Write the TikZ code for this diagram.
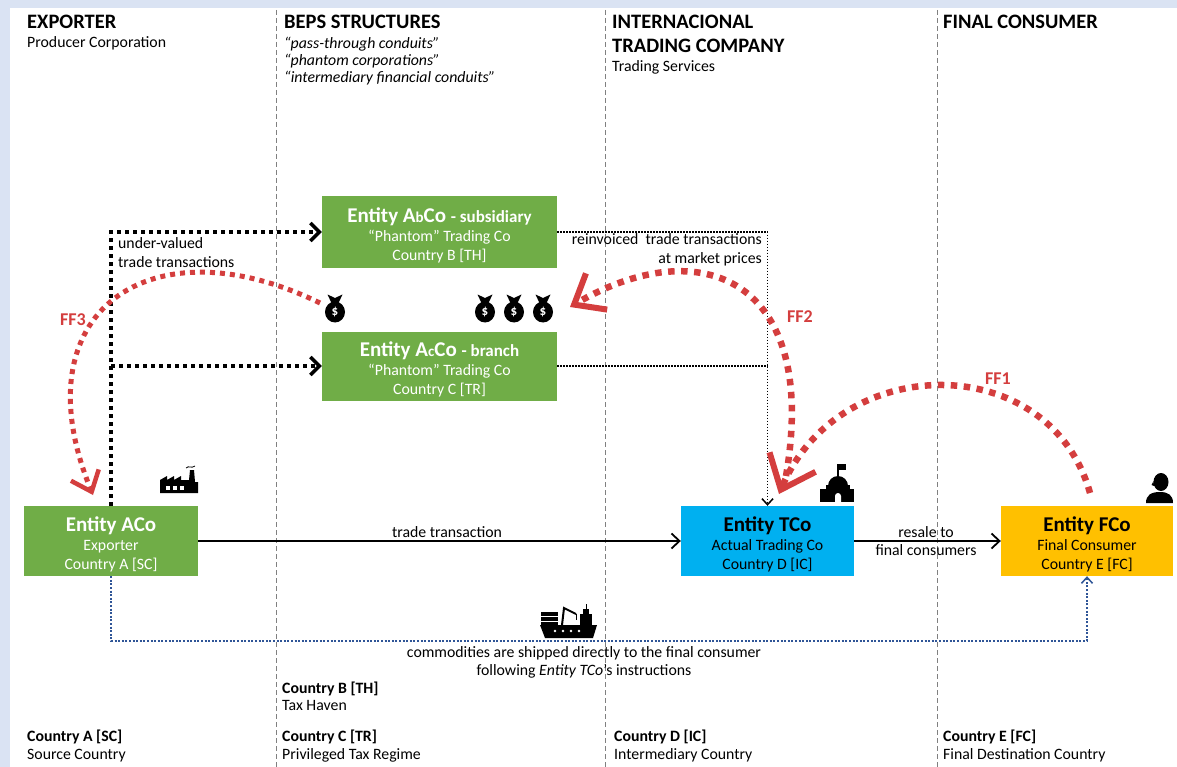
\documentclass[tikz,border=0pt]{standalone}
\usepackage{fontspec}
\setmainfont{Carlito}
\usetikzlibrary{arrows.meta}
\definecolor{cgreen}{HTML}{70AD47}
\definecolor{ccyan}{HTML}{00B0F0}
\definecolor{cyel}{HTML}{FFC000}
\definecolor{cred}{RGB}{212,62,62}
\definecolor{cblue}{RGB}{47,85,151}
\definecolor{cband}{HTML}{DAE3F3}
\definecolor{cgrid}{RGB}{128,128,128}
\newcommand\myS{\fontsize{15.8}{19}\selectfont}
\newcommand\myH{\fontsize{20.5}{24}\selectfont\bfseries}
\newcommand\myT{\fontsize{21}{19}\selectfont\bfseries\rule{0pt}{21pt}}
\newcommand\myU{\fontsize{17}{19}\selectfont\bfseries}
\newcommand\myR{\fontsize{18}{20}\selectfont\bfseries}
\begin{document}
\begin{tikzpicture}[x=1pt,y=-1pt,
  txt/.style={inner sep=0pt, font=\myS, anchor=base west},
  hdr/.style={inner sep=0pt, font=\myH, anchor=base west},
  ent/.style={inner sep=0pt, align=center, font=\myS},
  grid/.style={cgrid, line width=0.8pt, dash pattern=on 5pt off 3pt},
  bigdot/.style={black, line width=4pt, dash pattern=on 4pt off 4pt},
  thindot/.style={black, line width=1.5pt, dash pattern=on 1.5pt off 1.5pt},
  bluedot/.style={cblue, line width=2pt, dash pattern=on 2pt off 1.6pt},
  solidarr/.style={black, line width=1.6pt},
  ffline/.style={cred, line width=6.5pt, dash pattern=on 6.5pt off 6.5pt},
  fflabel/.style={inner sep=0pt, text=cred, font=\myR},
  bigtip/.tip={Straight Barb[length=9pt,width=18pt,line width=3.5pt]},
  smalltip/.tip={Straight Barb[length=6pt,width=11pt,line width=1.5pt]},
  midtip/.tip={Straight Barb[length=8pt,width=15pt,line width=1.8pt]},
  fftipA/.tip={Straight Barb[length=30pt,width=50pt,line width=6pt]},
  fftipB/.tip={Straight Barb[length=26pt,width=42pt,line width=6pt]},
  fftipC/.tip={Straight Barb[length=18pt,width=30pt,line width=4.5pt]},
  bagicon/.pic={
    \fill[black] (0,5) ellipse[x radius=10, y radius=10.5];
    \fill[black] (-3.5,-4) -- (-7.5,-12.5) -- (0,-9) -- (7.5,-12.5) -- (3.5,-4) -- cycle;
    \node[text=white, font=\fontsize{13}{13}\selectfont\bfseries, inner sep=0pt] (-d) at (0,5.5) {\$};
  }]
\useasboundingbox (0,0) rectangle (1177,767);
\fill[white] (0,0) rectangle (1177,767);
\fill[cband] (0,0) rectangle (1177,8);
\fill[cband] (0,0) rectangle (10,767);

% column separators
\draw[grid] (276,10) -- (276,767);
\draw[grid] (605,10) -- (605,767);
\draw[grid] (937,10) -- (937,767);

% headers
\node[hdr] (hA) at (27,28.6) {EXPORTER};
\node[txt] (sA) at (27,48) {Producer Corporation};
\node[hdr] (hB) at (284,28.6) {BEPS STRUCTURES};
\node[txt] (sB1) at (284,49) {\itshape “pass-through conduits”};
\node[txt] (sB2) at (284,66) {\itshape “phantom corporations”};
\node[txt] (sB3) at (284,83) {\itshape “intermediary financial conduits”};
\node[hdr] (hD1) at (612,28.6) {INTERNACIONAL};
\node[hdr] (hD2) at (612,52.5) {TRADING COMPANY};
\node[txt] (sD) at (612,72) {Trading Services};
\node[hdr] (hE) at (943,28.6) {FINAL CONSUMER};

% footers
\node[txt, font=\myS\bfseries] (fB1) at (282,693) {Country B [TH]};
\node[txt] (fB2) at (282,710) {Tax Haven};
\node[txt, font=\myS\bfseries] (fA1) at (27,741) {Country A [SC]};
\node[txt] (fA2) at (27,759) {Source Country};
\node[txt, font=\myS\bfseries] (fC1) at (282,741) {Country C [TR]};
\node[txt] (fC2) at (282,759) {Privileged Tax Regime};
\node[txt, font=\myS\bfseries] (fD1) at (614,741) {Country D [IC]};
\node[txt] (fD2) at (614,759) {Intermediary Country};
\node[txt, font=\myS\bfseries] (fE1) at (943,741) {Country E [FC]};
\node[txt] (fE2) at (943,759) {Final Destination Country};

% entity boxes
\node[ent, fill=cgreen, text=white, minimum width=235pt, minimum height=72pt] (abco) at (439.5,232)
  {{\myT Entity A{\fontsize{15}{19}\selectfont b}Co {\myU - subsidiary}}\\“Phantom” Trading Co\\Country B [TH]};
\node[ent, fill=cgreen, text=white, minimum width=235pt, minimum height=69pt] (acco) at (439.5,366)
  {{\myT Entity A{\fontsize{15}{19}\selectfont c}Co {\myU - branch}}\\“Phantom” Trading Co\\Country C [TR]};
\node[ent, fill=cgreen, text=white, minimum width=174pt, minimum height=70pt] (aco) at (111,541)
  {{\myT Entity ACo}\\Exporter\\Country A [SC]};
\node[ent, fill=ccyan, text=black, minimum width=173pt, minimum height=70pt] (tco) at (767.5,541)
  {{\myT Entity TCo}\\Actual Trading Co\\Country D [IC]};
\node[ent, fill=cyel, text=black, minimum width=172pt, minimum height=70pt] (fco) at (1087,541)
  {{\myT Entity FCo}\\Final Consumer\\Country E [FC]};

% black dotted (under-valued)
\draw[bigdot, -{bigtip}] (aco.north) |- (abco.west);
\draw[bigdot, -{bigtip}] (aco.north |- acco.west) -- (acco.west);
\node[txt, anchor=west, align=left] (uv) at (118,252.5) {under-valued\\trade transactions};

% thin dotted (reinvoiced)
\draw[thindot, -{smalltip}] (abco.east) -| (tco.north);
\draw[thindot] (acco.east) -- (tco.north |- acco.east);
\node[txt, anchor=east, align=right] (ri) at (762,250) {reinvoiced\ \ trade transactions\\at market prices};

% solid trade arrows
\draw[solidarr, -{midtip}] (aco.east) -- (tco.west);
\node[txt, anchor=base] (tt) at (447,537) {trade transaction};
\draw[solidarr, -{midtip}] (tco.east) -- (fco.west);
\node[txt, anchor=base] (rs1) at (926,537) {resale to};
\node[txt, anchor=base] (rs2) at (926,555) {final consumers};

% blue dotted shipping
\coordinate (shipc) at (111,641);
\draw[bluedot, -{smalltip}] (aco.south) -- (shipc) -| (fco.south);
\node[txt, anchor=base] (sh1) at (584,657) {commodities are shipped directly to the final consumer};
\node[txt, anchor=base] (sh2) at (584,675) {following \textit{Entity TCo}’s instructions};

% factory icon
\fill[black] (160,493) -- (160,480) -- (167,476) -- (167,480) -- (174,476) -- (174,480) -- (181,476) -- (181,480) -- (189,480) -- (190,470) -- (194,470) -- (195,482) -- (198,482) -- (198,493) -- cycle;
\fill[white] (166,486) rectangle (170,490);
\fill[white] (173,486) rectangle (177,490);
\fill[white] (180,486) rectangle (184,490);
\draw[black, line width=0.8pt] (186,468) .. controls (189,465) and (191,469) .. (195,466);

% bank icon
\fill[black] (820,489) rectangle (854,502);
\fill[black] (826,485) rectangle (850,489);
\fill[black] (828,486) arc[start angle=180, end angle=360, radius=10];
\draw[black, line width=1.3pt] (838,477) -- (838,464);
\fill[black] (838,464) rectangle (846,469.5);
\fill[white] (835,502) -- (835,496) arc[start angle=180, end angle=360, radius=3] -- (841,502) -- cycle;

% person icon
\fill[black] (1161,482) ellipse[x radius=7.5, y radius=9];
\fill[black] (1153.5,481) -- (1151.5,485) -- (1154,486) -- cycle;
\fill[black] (1146,503) .. controls (1146,495) and (1151,492) .. (1160,492) .. controls (1168,492) and (1173,495) .. (1173,503) -- cycle;

% ship icon
\fill[black] (540,625) -- (597,625) -- (593,638) -- (545,638) -- cycle;
\fill[black] (541,612) rectangle (558,615.5);
\fill[black] (541,617) rectangle (558,620.5);
\fill[black] (541,622) rectangle (558,625);
\draw[black, line width=2pt] (562,625) -- (564,608) -- (576,614);
\draw[black, line width=1pt] (576,614) -- (576,620);
\fill[black] (580,614) rectangle (592,625);
\fill[black] (583,609) rectangle (589,614);
\draw[black, line width=1pt] (586,609) -- (586,604);
\foreach \px in {555,563,571,579}{\fill[white] (\px,631) circle (1.3);}

% money bags
\pic (bag1) at (335,307) {bagicon};
\pic (bag2) at (485,307) {bagicon};
\pic (bag3) at (514,307) {bagicon};
\pic (bag4) at (543,307) {bagicon};

% flows of funds
\coordinate (ff1s) at (1090,493);
\coordinate (ff1e) at (779,494);
\coordinate (ff2s) at (786,476);
\coordinate (ff2e) at (570,307);
\coordinate (ff3s) at (320,303);
\coordinate (ff3e) at (93,495);
\draw[ffline, -{fftipA}] (ff1s) .. controls (1050,350) and (840,350) .. (ff1e);
\draw[ffline, -{fftipB}] (ff2s) .. controls (820,278) and (700,231) .. (ff2e);
\draw[ffline, line width=5pt, dash pattern=on 5pt off 5pt, -{fftipC}] (ff3s) .. controls (150,220) and (18,312) .. (ff3e);
\node[fflabel] (l1) at (998,379) {FF1};
\node[fflabel] (l2) at (800,317) {FF2};
\node[fflabel] (l3) at (73,320) {FF3};
\end{tikzpicture}
\end{document}
